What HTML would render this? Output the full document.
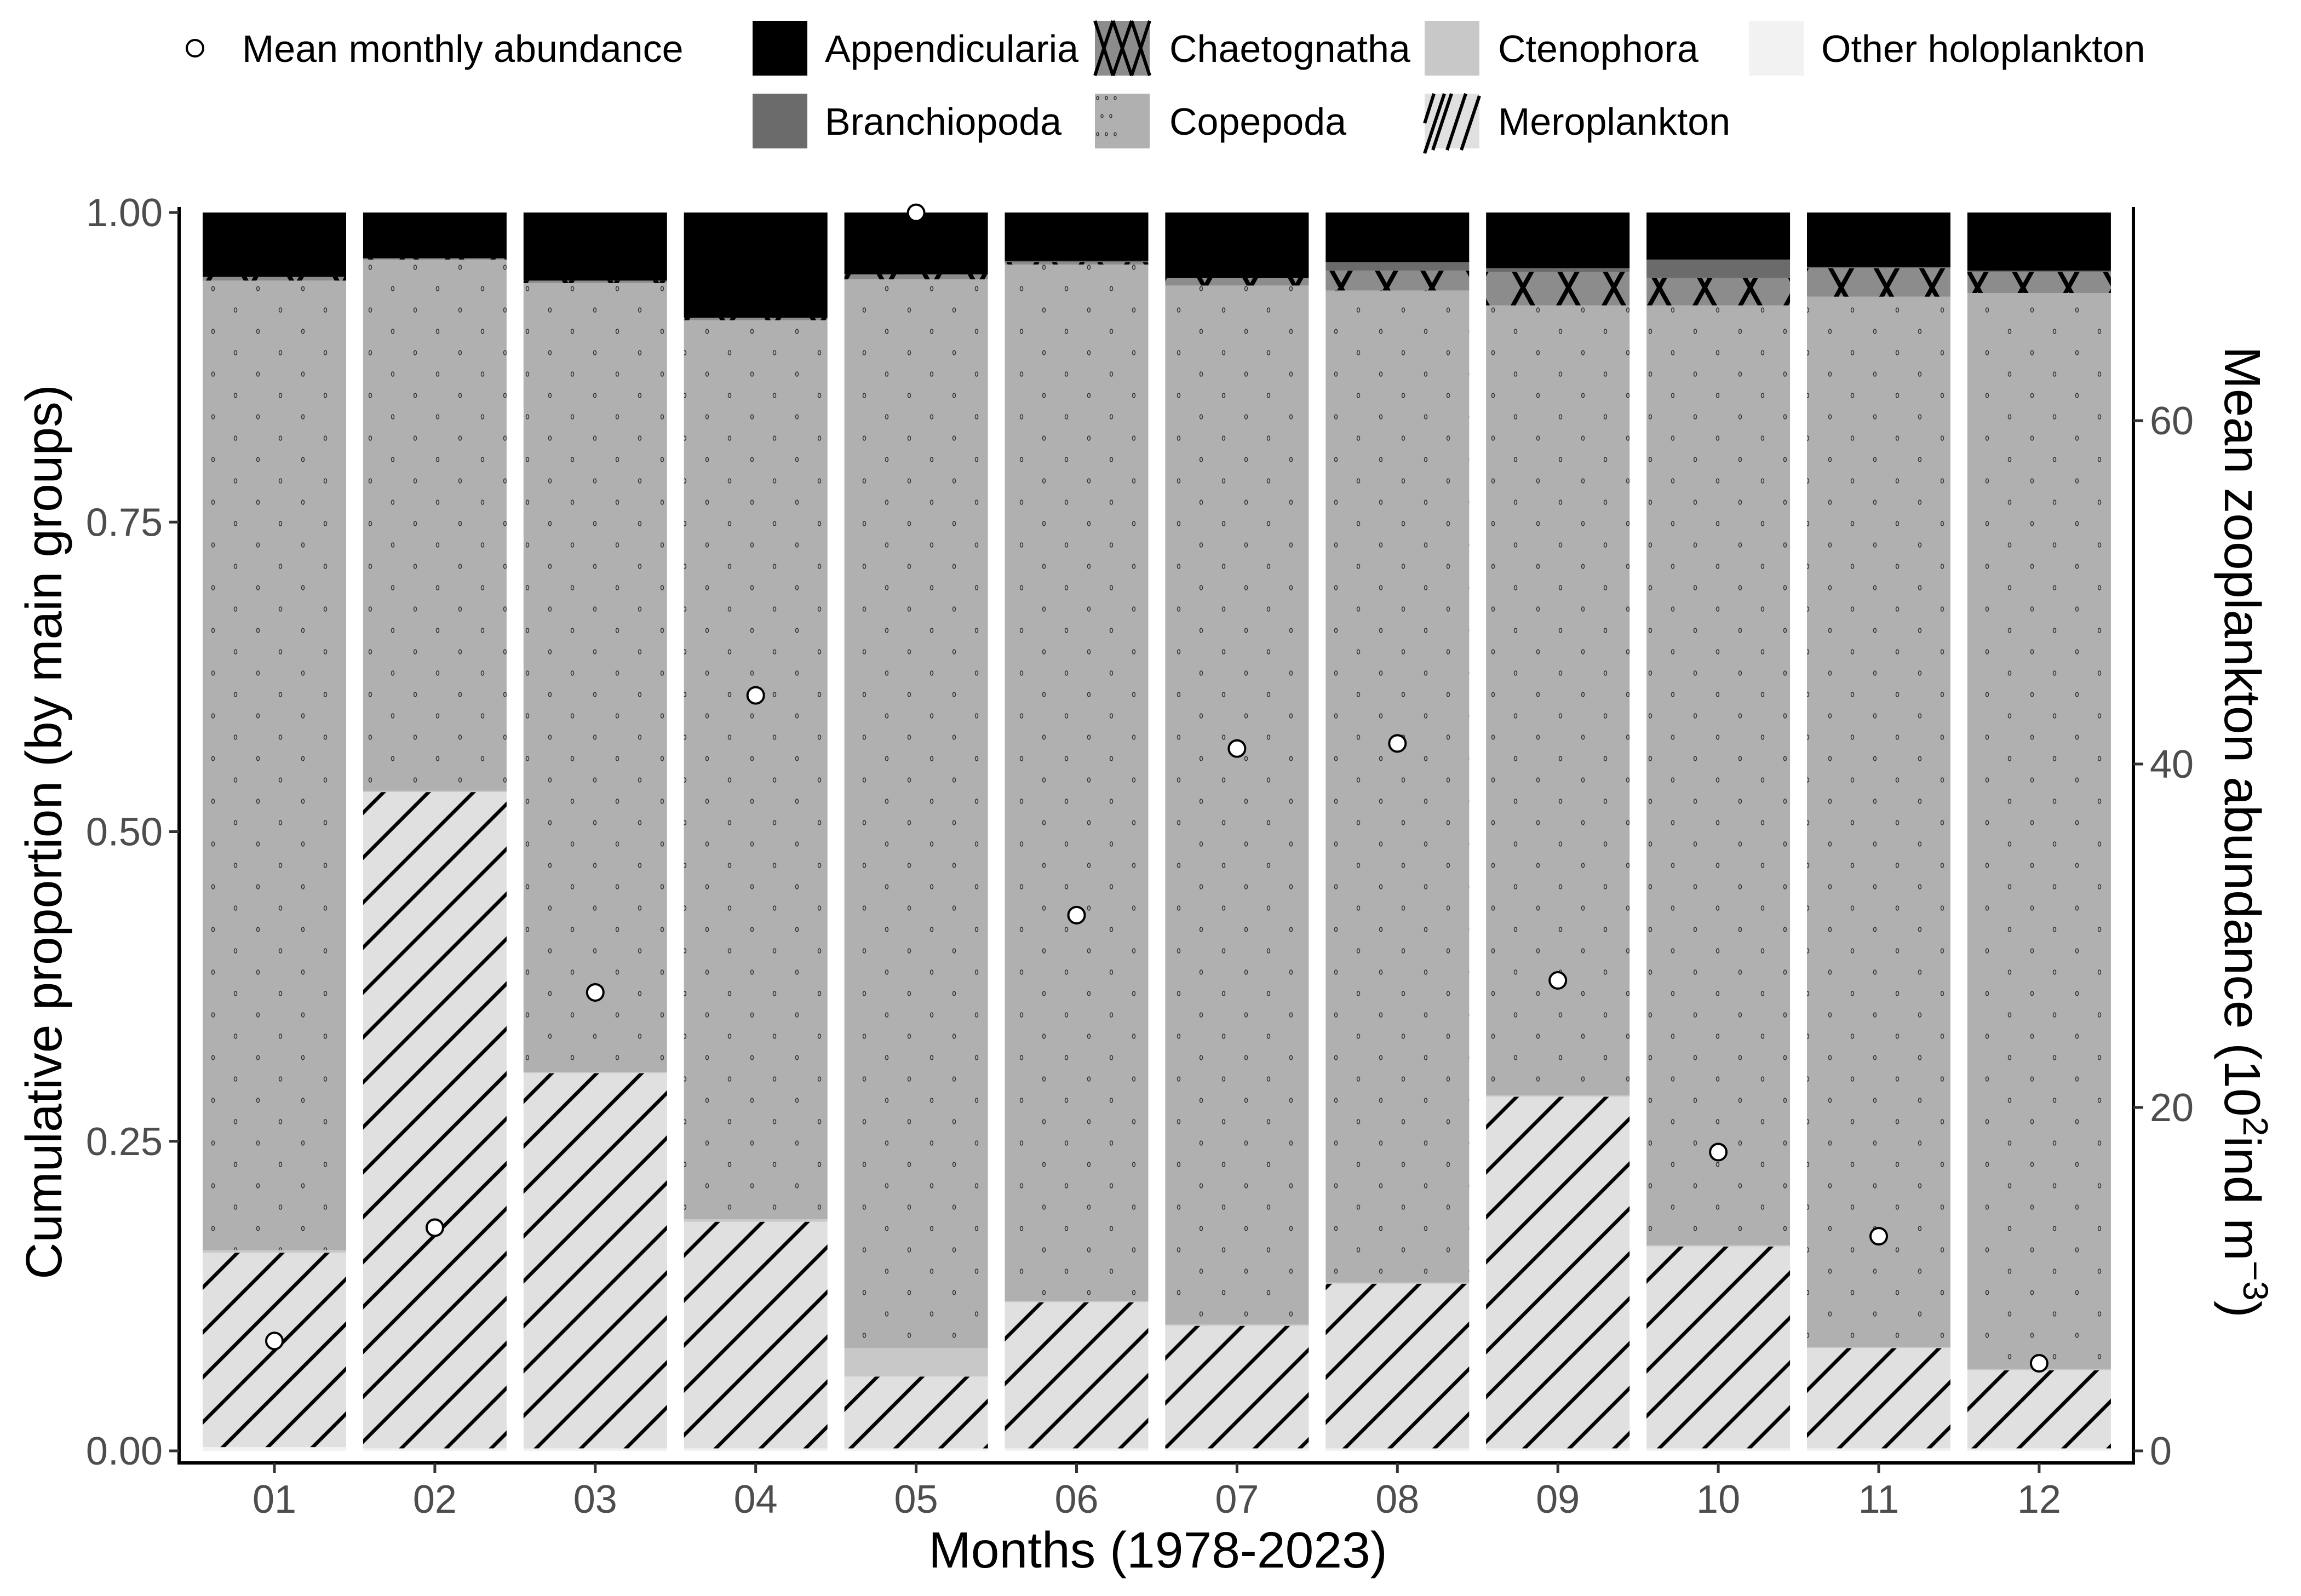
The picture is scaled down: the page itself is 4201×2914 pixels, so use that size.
<!DOCTYPE html>
<html><head><meta charset="utf-8"><style>
html,body{margin:0;padding:0;background:#fff}
svg{display:block;font-family:"Liberation Sans",Arial,sans-serif}
</style></head><body>
<svg id="chart" xmlns="http://www.w3.org/2000/svg" width="4201" height="2914" viewBox="0 0 4201 2914">
<defs>
<pattern id="hatch" patternUnits="userSpaceOnUse" width="58" height="58" patternTransform="rotate(45)">
<rect width="58" height="58" fill="#e0e0e0"/><line x1="10" y1="-5" x2="10" y2="65" stroke="#000" stroke-width="6.5"/>
</pattern>
<pattern id="dots" patternUnits="userSpaceOnUse" width="82" height="78">
<rect width="82" height="78" fill="#b0b0b0"/>
<ellipse cx="20" cy="20" rx="2.5" ry="4" fill="none" stroke="#333" stroke-width="1.5"/>
<ellipse cx="61" cy="59" rx="2.5" ry="4" fill="none" stroke="#333" stroke-width="1.5"/>
</pattern>
<pattern id="cross" patternUnits="userSpaceOnUse" width="83" height="150">
<rect width="83" height="150" fill="#8c8c8c"/>
<path d="M0,0 L83,150 M83,0 L0,150" stroke="#000" stroke-width="8" fill="none"/>
</pattern>
</defs>
<g id="legend"></g>
<g id="plot"></g>
<g id="axes"></g>
</svg>
<script>
const months = ["01","02","03","04","05","06","07","08","09","10","11","12"];
const groups = ["Other holoplankton","Meroplankton","Ctenophora","Copepoda","Chaetognatha","Branchiopoda","Appendicularia"];
const other = [0.003,0.002,0.002,0.002,0.002,0.002,0.002,0.002,0.002,0.002,0.002,0.002];
const mero = [0.157,0.530,0.303,0.183,0.058,0.118,0.099,0.133,0.284,0.163,0.081,0.063];
const cteno = [0.002,0.001,0.001,0.002,0.023,0.001,0.001,0.001,0.001,0.001,0.001,0.001];
const cope = [0.783,0.429,0.637,0.726,0.863,0.837,0.839,0.801,0.638,0.759,0.848,0.869];
const chaeto = [0.003,0.001,0.002,0.002,0.004,0.002,0.006,0.016,0.027,0.022,0.023,0.017];
const branch = [0.000,0.000,0.000,0.000,0.000,0.001,0.000,0.007,0.003,0.015,0.001,0.001];
const appen = [0.052,0.037,0.055,0.085,0.050,0.039,0.053,0.040,0.045,0.038,0.044,0.047];
const abundance = [6.4,13.0,26.7,44.0,72.1,31.2,40.9,41.2,27.4,17.4,12.5,5.1];
const leftTicks = [0,0.25,0.5,0.75,1];
const leftTickLabels = ["0.00","0.25","0.50","0.75","1.00"];
const rightTicks = [0,20,40,60];

const NS="http://www.w3.org/2000/svg";
const X0=327, X1=3895, Y0=2649, Y1=388;
const band=292.9, barW=262, firstC=501;
const xC=i=>firstC+i*band;
const yL=v=>Y0-(Y0-Y1)*v;
const yR=v=>Y0-31.35*v;
function mk(tag,attrs,parent){const e=document.createElementNS(NS,tag);for(const k in attrs)e.setAttribute(k,attrs[k]);parent.appendChild(e);return e;}
const plot=document.getElementById('plot'), axes=document.getElementById('axes');
const series=[other,mero,cteno,cope,chaeto,branch,appen];
const fills=["#f2f2f2","url(#hatch)","#c8c8c8","url(#dots)","url(#cross)","#6b6b6b","#000"];
months.forEach((m,i)=>{
  let cum=0;
  series.forEach((s,g)=>{
    const v=s[i]; if(v<=0){cum+=v;return;}
    const r=mk('rect',{x:xC(i)-barW/2,y:yL(cum+v),width:barW,height:yL(cum)-yL(cum+v),fill:fills[g]},plot);
    
    
    cum+=v;
  });
});
abundance.forEach((a,i)=>{
  const c=mk('circle',{cx:xC(i),cy:yR(a),r:15,fill:"#fff",stroke:"#000","stroke-width":4},plot);
  
  
});
mk('line',{x1:X0,y1:378,x2:X0,y2:2674,stroke:"#000","stroke-width":6},axes);
mk('line',{x1:X0-3,y1:2671,x2:X1+3,y2:2671,stroke:"#000","stroke-width":6},axes);
mk('line',{x1:X1,y1:378,x2:X1,y2:2674,stroke:"#000","stroke-width":6},axes);
leftTicks.forEach((t,i)=>{
  mk('line',{x1:X0-18,y1:yL(t),x2:X0,y2:yL(t),stroke:"#333","stroke-width":5},axes);
  const tx=mk('text',{x:X0-30,y:yL(t)+25,"text-anchor":"end","font-size":72,fill:"#4d4d4d"},axes);
  tx.textContent=leftTickLabels[i];
  
  
});
rightTicks.forEach(t=>{
  mk('line',{x1:X1,y1:yR(t),x2:X1+18,y2:yR(t),stroke:"#333","stroke-width":5},axes);
  const tx=mk('text',{x:X1+30,y:yR(t)+25,"font-size":72,fill:"#4d4d4d"},axes);
  tx.textContent=String(t);
  
  
});
months.forEach((m,i)=>{
  mk('line',{x1:xC(i),y1:2671,x2:xC(i),y2:2689,stroke:"#333","stroke-width":5},axes);
  const tx=mk('text',{x:xC(i),y:2762,"text-anchor":"middle","font-size":72,fill:"#4d4d4d"},axes);
  tx.textContent=m;
  
  
});
</script>
<svg style="position:absolute;left:0;top:0" width="4201" height="2914" xmlns="http://www.w3.org/2000/svg" font-family="Liberation Sans, sans-serif">
<text x="2114" y="2862" text-anchor="middle" font-size="93">Months (1978-2023)</text>
<text transform="translate(112,1519) rotate(-90)" text-anchor="middle" font-size="93">Cumulative proportion (by main groups)</text>
<text transform="translate(4062,1519) rotate(90)" text-anchor="middle" font-size="93">Mean zooplankton abundance (10<tspan dy="-34" font-size="64">2</tspan><tspan dy="34">ind m</tspan><tspan dy="-34" font-size="64">−3</tspan><tspan dy="34">)</tspan></text>
<g>
<circle cx="356" cy="88" r="15" fill="#fff" stroke="#000" stroke-width="4"/>
<text x="442" y="113" font-size="70">Mean monthly abundance</text></g>
<g><rect x="1374" y="38" width="100" height="100" fill="#000"/><text x="1506" y="113" font-size="70">Appendicularia</text></g>
<g><rect x="1999" y="38" width="100" height="100" fill="#8c8c8c"/><path d="M1999,38 L2032,138 M2032,38 L1999,138 M2032,38 L2066,138 M2066,38 L2032,138 M2066,38 L2099,138 M2099,38 L2066,138" stroke="#000" stroke-width="6"/><text x="2135" y="113" font-size="70">Chaetognatha</text></g>
<g><rect x="2601" y="38" width="100" height="100" fill="#c8c8c8"/><text x="2735" y="113" font-size="70">Ctenophora</text></g>
<g><rect x="3193" y="38" width="100" height="100" fill="#f2f2f2"/><text x="3325" y="113" font-size="70">Other holoplankton</text></g>
<g><rect x="1374" y="171" width="100" height="100" fill="#6b6b6b"/><text x="1506" y="246" font-size="70">Branchiopoda</text></g>
<g><rect x="1999" y="171" width="100" height="100" fill="#b0b0b0"/><g fill="none" stroke="#333" stroke-width="1.5"><ellipse cx="2004" cy="179" rx="2" ry="3"/><ellipse cx="2020" cy="179" rx="2" ry="3"/><ellipse cx="2036" cy="179" rx="2" ry="3"/><ellipse cx="2012" cy="212" rx="2" ry="3"/><ellipse cx="2028" cy="212" rx="2" ry="3"/><ellipse cx="2004" cy="245" rx="2" ry="3"/><ellipse cx="2020" cy="245" rx="2" ry="3"/><ellipse cx="2036" cy="245" rx="2" ry="3"/></g><text x="2135" y="246" font-size="70">Copepoda</text></g>
<g><rect x="2601" y="171" width="100" height="100" fill="#e0e0e0"/><path d="M2601,225 L2618,171 M2601,280 L2637,171 M2616,274 L2650,171 M2642,274 L2676,171 M2668,274 L2701,175" stroke="#000" stroke-width="6"/><text x="2735" y="246" font-size="70">Meroplankton</text></g>
</svg>
</body></html>
